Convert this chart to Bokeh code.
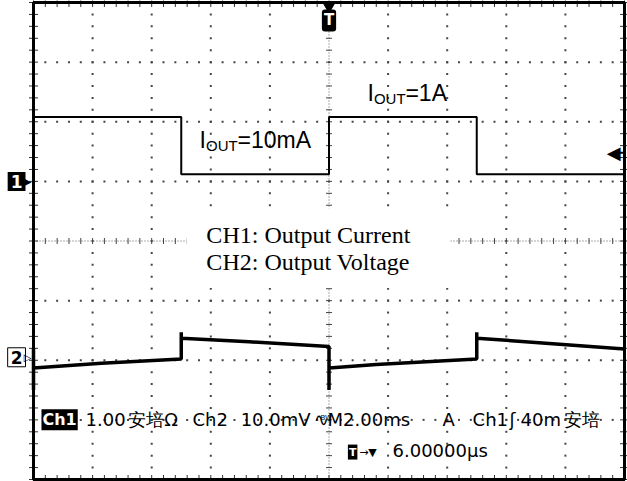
import numpy as np
from bokeh.plotting import figure
from bokeh.models import Label
from bokeh.core.properties import value
from bokeh.embed import file_html
from bokeh.resources import INLINE

# ---------------- data (screen divisions; time in ms, 2 ms/div) ----------------
# CH1: output current (1.00 A/div), square wave load step
ch1_t = [-10, -10, -5, -5, 0, 0, 5, 5, 10]
ch1_v = [1.12, 2.08, 2.08, 1.12, 1.12, 2.08, 2.08, 1.12, 1.12]
ch1_ground = 1.0

# CH2: output voltage (10.0 mV/div)
ch2_t = [-10, -10, -10, -7.7, -5, -5, -5, -2.7, 0, 0, 0, 1.6, 5, 5, 5, 7.8, 10]
ch2_v = [-1.80, -2.50, -2.13, -2.05, -1.98, -1.53, -1.63, -1.69, -1.77, -2.50,
         -2.13, -2.07, -1.98, -1.53, -1.63, -1.73, -1.81]
ch2_ground = -1.95

trig_level = 1.48

iout_x = [-4.38, 1.30]
iout_y = [1.56, 2.35]
iout_val = ["=10mA", "=1A"]

legend_lines = ["CH1: Output Current", "CH2: Output Voltage"]
legend_y = [-0.03, -0.49]

status_x = [-8.24, -6.79, -4.62, -2.99, -0.52, -0.05, 3.84, 4.86, 6.11, 6.48, 7.94]
status_txt = ["1.00", "安培Ω", "Ch2", "10.0mV", "∿", "M2.00ms", "A", "Ch1", "ʃ", "40m", "安培"]

# ---------------- layout ----------------
FIG_W, FIG_H = 627, 481
GX0, GX1, GY0, GY1 = 33, 624, 2, 479     # graticule box in pixels
XL, XR, YB, YT = -10.0, 10.0, -4.0, 4.0  # graticule box in data units
sx = (GX1 - GX0) / (XR - XL)
sy = (GY1 - GY0) / (YT - YB)
x_range = (XL - GX0 / sx, XR + (FIG_W - GX1) / sx)
y_range = (YB - (FIG_H - GY1) / sy, YT + GY0 / sy)


def lift(font_px):
    """baseline correction (data units) for a given font size"""
    return 0.34 * font_px / sy


p = figure(width=FIG_W, height=FIG_H, x_range=x_range, y_range=y_range, title=None,
           output_backend="svg", toolbar_location=None,
           x_axis_location=None, y_axis_location=None, min_border=0)
p.grid.visible = False
p.outline_line_color = None
p.background_fill_color = "white"
p.border_fill_color = "white"

major_x = np.arange(XL, XR + 0.001, 2)
major_y = np.arange(YB, YT + 0.001, 1)
minor_x = np.round(np.arange(XL, XR + 0.001, 0.4), 3)
minor_y = np.round(np.arange(YB, YT + 0.001, 0.2), 3)

# dotted graticule
gx, gy = [], []
for mx in major_x[1:-1]:
    if abs(mx) < 1e-9:
        continue
    gx += [mx] * len(minor_y)
    gy += list(minor_y)
for my in major_y[1:-1]:
    if abs(my) < 1e-9:
        continue
    gx += list(minor_x)
    gy += [my] * len(minor_x)
p.scatter(gx, gy, marker="square", size=2, fill_color="#444444", line_color=None)

# center crosshair with ticks
p.line([0, 0], [YB, YT], line_color="#555555", line_width=1, line_dash="1 2")
p.line([XL, XR], [0, 0], line_color="#555555", line_width=1, line_dash="1 2")
p.scatter([0] * len(minor_y), minor_y, marker="dash", size=6, line_color="#444444", line_width=1)
p.scatter(minor_x, [0] * len(minor_x), marker="dash", angle=np.pi / 2, size=6,
          line_color="#444444", line_width=1)

# edge ticks
p.scatter(minor_x, [YB] * len(minor_x), marker="dash", angle=np.pi / 2, size=9, line_color="#333333")
p.scatter(minor_x, [YT] * len(minor_x), marker="dash", angle=np.pi / 2, size=9, line_color="#333333")
p.scatter([XL] * len(minor_y), minor_y, marker="dash", size=9, line_color="#333333")
p.scatter([XR] * len(minor_y), minor_y, marker="dash", size=9, line_color="#333333")

# white box behind the legend text
p.quad(left=[-4.82], right=[4.11], bottom=[-0.79], top=[0.55], fill_color="white", line_color=None)

# graticule border
p.quad(left=[XL], right=[XR], bottom=[YB], top=[YT], fill_color=None,
       line_color="black", line_width=3)

# traces
p.line(ch1_t, ch1_v, line_color="black", line_width=2)
p.line(ch2_t, ch2_v, line_color="black", line_width=3.5)

# I_OUT labels
sans = value("Liberation Sans")
for x, y, v in zip(iout_x, iout_y, iout_val):
    p.text([x], [y + lift(23)], text=["I"], text_font=sans, text_font_size="23px",
           text_baseline="alphabetic", text_color="black")
    p.text([x], [y - 0.05 + lift(15)], text=["OUT"], x_offset=6.5, text_font=sans,
           text_font_size="15px", text_baseline="alphabetic", text_color="black")
    p.text([x], [y + lift(23)], text=[v], x_offset=38, text_font=sans, text_font_size="23px",
           text_baseline="alphabetic", text_color="black")

# legend text
p.text([-4.15] * 2, [v + lift(24) for v in legend_y], text=legend_lines,
       text_font=value("Liberation Serif"), text_font_size="24px",
       text_baseline="alphabetic", text_color="black")

# status readout
mono = value("DejaVu Sans")
mono_s = "DejaVu Sans"
st_y1 = -3.09
st_y2 = -3.61
p.text(status_x, [st_y1 + lift(18)] * len(status_x), text=status_txt, text_font=mono,
       text_font_size="18px", text_baseline="alphabetic", text_color="black")
p.text([-0.29], [st_y1 + 0.08 + lift(7)], text=["BW"], text_font=mono, text_font_size="7px",
       text_baseline="alphabetic", text_color="black")
p.add_layout(Label(x=-9.73, y=st_y1 + lift(16), text="Ch1", text_font=mono_s,
                   text_font_size="16px", text_font_style="bold", text_color="white",
                   background_fill_color="black", text_baseline="alphabetic", padding=1))
p.add_layout(Label(x=0.80, y=-3.54, text="T", text_font=mono_s, text_font_size="11px",
                   text_font_style="bold", text_color="white", background_fill_color="black",
                   text_align="center", text_baseline="middle", padding=1))
p.text([1.02], [st_y2 + lift(11)], text=["→▼"], text_font=mono, text_font_size="11px",
       text_baseline="alphabetic", text_color="black")
p.text([2.15], [st_y2 + lift(18)], text=["6.00000µs"], text_font=mono, text_font_size="18px",
       text_baseline="alphabetic", text_color="black")

# trigger position marker (top)
p.scatter([0], [3.93], marker="inverted_triangle", size=11, fill_color="black", line_color="black")
p.add_layout(Label(x=0, y=3.70, text="T", text_font=mono_s, text_font_size="15px",
                   text_font_style="bold", text_color="white", background_fill_color="black",
                   text_align="center", text_baseline="middle", padding=2, border_radius=3))

# trigger level arrow (right)
p.add_layout(Label(x=XR, y=trig_level, text="◀", x_offset=-4, text_font=mono_s,
                   text_font_size="18px", text_color="black", text_align="right",
                   text_baseline="middle"))
p.segment(x0=[9.7], y0=[trig_level], x1=[XR], y1=[trig_level], line_color="black", line_width=2)

# channel ground markers (left)
p.add_layout(Label(x=XL, y=ch1_ground, text="1", x_offset=-8, text_font=mono_s,
                   text_font_size="17px", text_font_style="bold", text_color="white",
                   background_fill_color="black", text_align="right", text_baseline="middle",
                   padding=3))
p.add_layout(Label(x=XL, y=ch1_ground, text="▶", x_offset=-2, text_font=mono_s,
                   text_font_size="10px", text_color="black", text_align="right",
                   text_baseline="middle"))
p.add_layout(Label(x=XL, y=ch2_ground, text="2", x_offset=-8, text_font=mono_s,
                   text_font_size="17px", text_font_style="bold", text_color="black",
                   background_fill_color="white", border_line_color="black",
                   text_align="right", text_baseline="middle", padding=3))
p.add_layout(Label(x=XL, y=ch2_ground, text="▷", x_offset=-2, text_font=mono_s,
                   text_font_size="10px", text_color="black", text_align="right",
                   text_baseline="middle"))

open("out.html", "w").write(file_html(p, INLINE))
